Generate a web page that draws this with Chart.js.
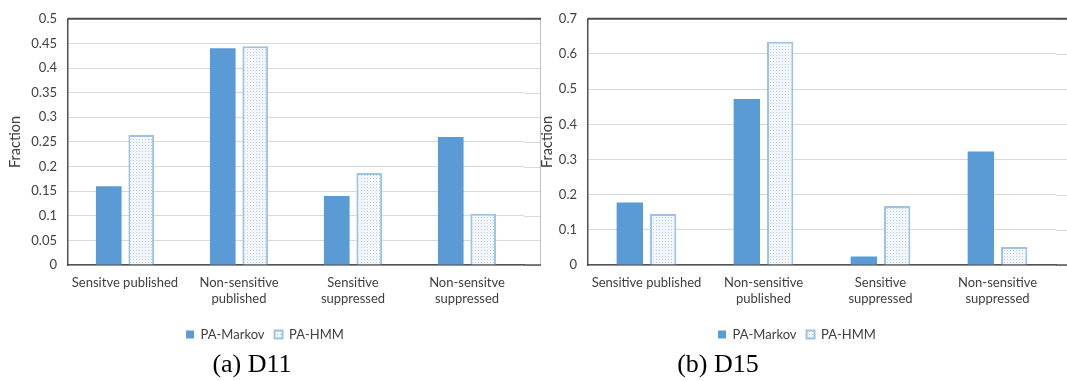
<!DOCTYPE html>
<html>
<head>
<meta charset="utf-8">
<script src="https://cdn.jsdelivr.net/npm/chart.js@4/dist/chart.umd.min.js"></script>
<style>
  html, body { margin: 0; padding: 0; background: #fff; overflow: hidden; }
  body { width: 1067px; height: 381px; position: relative; }
  canvas { position: absolute; top: 0; }
  #chartA { left: 0; }
  #chartB { left: 532px; }
  .caption {
    position: absolute; top: 349px; width: 200px; text-align: center;
    font-family: "Liberation Serif", "DejaVu Serif", serif; font-size: 26px; color: #000;
  }
</style>
</head>
<body>
<canvas id="chartA" width="545" height="351"></canvas>
<canvas id="chartB" width="535" height="351"></canvas>
<div class="caption" style="left: 152px;">(a) D11</div>
<div class="caption" style="left: 618px;">(b) D15</div>
<script>
// D11
const categoriesA = [['Sensitve published'], ['Non-sensitive', 'published'], ['Sensitive', 'suppressed'], ['Non-sensitve', 'suppressed']];
const markovA = [0.16, 0.44, 0.14, 0.26];
const hmmA = [0.264, 0.444, 0.187, 0.104];
const yTicksA = ['0', '0.05', '0.1', '0.15', '0.2', '0.25', '0.3', '0.35', '0.4', '0.45', '0.5'];

// D15
const categoriesB = [['Sensitive published'], ['Non-sensitive', 'published'], ['Sensitive', 'suppressed'], ['Non-sensitive', 'suppressed']];
const markovB = [0.178, 0.472, 0.024, 0.323];
const hmmB = [0.145, 0.635, 0.168, 0.051];
const yTicksB = ['0', '0.1', '0.2', '0.3', '0.4', '0.5', '0.6', '0.7'];

const textColor = '#404040';
const tickFont = { family: 'Lato', size: 13 };

function dotPattern() {
  const c = document.createElement('canvas');
  c.width = 3;
  c.height = 3;
  const g = c.getContext('2d');
  g.fillStyle = '#f3f7fc';
  g.fillRect(0, 0, 3, 3);
  g.fillStyle = '#b8d1ea';
  g.fillRect(1, 1, 1, 1);
  return g.createPattern(c, 'repeat');
}

// plot frame continues a bit past the last category, like the Excel original
const framePlugin = {
  id: 'frame',
  afterDraw(chart, args, opts) {
    const { ctx, chartArea: a, scales: { y } } = chart;
    const right = a.right + opts.extend;
    ctx.save();
    ctx.lineWidth = 1;
    ctx.strokeStyle = '#d9d9d9';
    y.ticks.forEach(t => {
      const py = Math.round(y.getPixelForValue(t.value)) + 0.5;
      ctx.beginPath();
      ctx.moveTo(a.right, py);
      ctx.lineTo(right, py);
      ctx.stroke();
    });
    if (right < chart.width) {
      ctx.strokeStyle = '#bfbfbf';
      ctx.beginPath();
      ctx.moveTo(right + 0.5, a.top);
      ctx.lineTo(right + 0.5, a.bottom);
      ctx.stroke();
    }
    ctx.strokeStyle = '#505050';
    ctx.lineWidth = 2;
    ctx.beginPath();
    ctx.moveTo(a.left, a.top);
    ctx.lineTo(right + 1, a.top);
    ctx.stroke();
    ctx.lineWidth = 1.5;
    ctx.beginPath();
    ctx.moveTo(a.right, a.bottom);
    ctx.lineTo(right + 1, a.bottom);
    ctx.stroke();
    ctx.restore();
  }
};

function createChart(canvasId, labels, markov, hmm, yMax, yStep, yTicks, yAxisWidth, padTop, padRight) {
  const ctx = document.getElementById(canvasId);
  return new Chart(ctx, {
    type: 'bar',
    data: {
      labels: labels,
      datasets: [{
        label: 'PA-Markov',
        data: markov,
        backgroundColor: '#5B9BD5',
        borderWidth: 0,
        categoryPercentage: 0.57,
        barPercentage: 0.79
      }, {
        label: 'PA-HMM',
        data: hmm,
        backgroundColor: dotPattern(),
        borderColor: '#9dc3e6',
        borderWidth: 2,
        categoryPercentage: 0.57,
        barPercentage: 0.79
      }]
    },
    options: {
      responsive: false,
      animation: false,
      layout: {
        padding: { left: 6, right: padRight, top: padTop, bottom: 0 }
      },
      plugins: {
        legend: {
          position: 'bottom',
          labels: {
            boxWidth: 8,
            boxHeight: 8,
            padding: 10,
            color: textColor,
            font: tickFont
          }
        },
        tooltip: { enabled: false },
        frame: { extend: 16 }
      },
      scales: {
        x: {
          grid: { display: false, drawTicks: false },
          border: { color: '#505050', width: 1.5 },
          ticks: {
            color: textColor,
            font: tickFont,
            padding: 10,
            maxRotation: 0,
            autoSkip: false
          },
          afterFit(scale) {
            scale.height = 53;
          }
        },
        y: {
          min: 0,
          max: yMax,
          ticks: {
            stepSize: yStep,
            color: textColor,
            font: tickFont,
            padding: 11,
            callback: (value, i) => yTicks[i]
          },
          grid: { color: '#d9d9d9', drawTicks: false },
          border: { color: '#505050', width: 1.5 },
          title: {
            display: true,
            text: 'Fraction',
            color: textColor,
            font: { family: 'Lato', size: 14.5 },
            padding: { top: 1, bottom: 0 }
          },
          afterFit(scale) {
            scale.width = yAxisWidth;
          }
        }
      }
    },
    plugins: [framePlugin]
  });
}

createChart('chartA', categoriesA, markovA, hmmA, 0.5, 0.05, yTicksA, 62, 13, 21);
createChart('chartB', categoriesB, markovB, hmmB, 0.7, 0.1, yTicksB, 50, 11, 11);
</script>
</body>
</html>
